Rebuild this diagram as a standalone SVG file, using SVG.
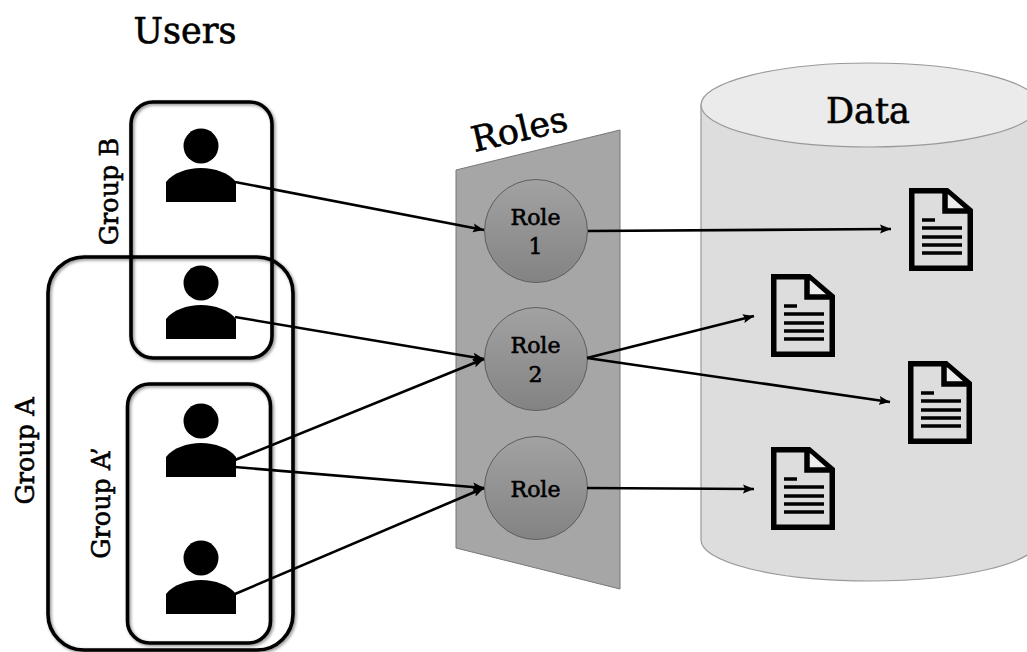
<svg xmlns="http://www.w3.org/2000/svg" width="1027" height="652" viewBox="0 0 1027 652">
<defs>
<linearGradient id="rg" x1="0" y1="0" x2="0" y2="1"><stop offset="0" stop-color="#a2a2a2"/><stop offset="1" stop-color="#838383"/></linearGradient>
<filter id="sh" x="-10%" y="-10%" width="120%" height="120%"><feDropShadow dx="1.5" dy="1.5" stdDeviation="1.5" flood-color="#000" flood-opacity="0.45"/></filter>
<marker id="ah" markerUnits="userSpaceOnUse" markerWidth="12" markerHeight="10" refX="11" refY="5" orient="auto"><path d="M0 0.5L11 5L0 9.5L2 5Z" fill="#000"/></marker>
<g id="user"><circle cx="0" cy="0" r="17.5" fill="#000"/><path d="M-35 56V36C-28 27-14 22 0 22C14 22 28 27 35 36V56Z" fill="#000"/></g>
<g id="doc"><path d="M2.75 2.75H38L61.25 22.5V80.25H2.75Z" fill="none" stroke="#000" stroke-width="5.5"/><path d="M36 5V23H58L40 7Z" fill="#ececec"/><path d="M36 3V23H61" fill="none" stroke="#000" stroke-width="5.5"/><path d="M13 32H26M13 40H53M13 49H53M13 57H53M13 65H53" stroke="#000" stroke-width="3.5" fill="none"/></g>
</defs>
<style>
.t{font-family:"DejaVu Serif","Liberation Serif",serif;fill:#000;stroke:#000;stroke-width:.6}
.box{fill:none;stroke:#000;stroke-width:3.6;filter:url(#sh)}
.c{fill:none;stroke:#000;stroke-width:2.6;marker-end:url(#ah)}
.role{fill:url(#rg);stroke:#5e5e5e;stroke-width:1}
</style>
<rect width="1027" height="652" fill="#fff"/>
<g id="data">
<path d="M701 105V540A169 41 0 0 0 1039 540V105Z" fill="#dddddd" stroke="#999" stroke-width="1.2"/>
<ellipse cx="870" cy="105" rx="169" ry="42" fill="#ebebeb" stroke="#999" stroke-width="1.2"/>
<text class="t" x="868" y="123" font-size="35" text-anchor="middle">Data</text>
</g>
<g id="roles">
<path d="M456 170L620 130V589L456 548Z" fill="#a6a6a6" stroke="#777" stroke-width="1"/>
<text class="t" x="522" y="141" font-size="35" text-anchor="middle" transform="rotate(-13 522 141)">Roles</text>
</g>
<g id="role1"><circle class="role" cx="536" cy="231" r="51.5"/><text class="t" font-size="22" text-anchor="middle" x="535.5" y="225">Role</text><text class="t" font-size="22" text-anchor="middle" x="535.5" y="254">1</text></g>
<g id="role2"><circle class="role" cx="536" cy="359" r="51.5"/><text class="t" font-size="22" text-anchor="middle" x="535.5" y="353">Role</text><text class="t" font-size="22" text-anchor="middle" x="535.5" y="382">2</text></g>
<g id="role3"><circle class="role" cx="536" cy="488" r="51.5"/><text class="t" font-size="22" text-anchor="middle" x="535.5" y="497">Role</text></g>
<g id="users-label"><text class="t" x="185" y="43" font-size="35" text-anchor="middle">Users</text></g>
<g id="group-b"><rect class="box" x="131" y="102" width="141" height="256" rx="22"/><text class="t" font-size="25.5" text-anchor="middle" transform="translate(118 191.500) rotate(-90)">Group B</text></g>
<g id="group-a"><rect class="box" x="48" y="257" width="245" height="393" rx="36"/><text class="t" font-size="25.5" text-anchor="middle" transform="translate(34 451) rotate(-90)">Group A</text></g>
<g id="group-a-prime"><rect class="box" x="127.500" y="384" width="143" height="259" rx="22"/><text class="t" font-size="25.5" text-anchor="middle" transform="translate(110 503) rotate(-90)">Group A’</text></g>
<use id="user1" href="#user" x="201" y="146"/>
<use id="user2" href="#user" x="201" y="283"/>
<use id="user3" href="#user" x="201" y="421"/>
<use id="user4" href="#user" x="201" y="558"/>
<use id="doc1" href="#doc" x="909" y="188"/>
<use id="doc2" href="#doc" x="771" y="274"/>
<use id="doc3" href="#doc" x="908" y="361"/>
<use id="doc4" href="#doc" x="771" y="447"/>
<g id="connectors">
<path class="c" d="M235 182L484 230"/>
<path class="c" d="M235 317L484 359"/>
<path class="c" d="M235 460L484 359"/>
<path class="c" d="M235 467L484 488"/>
<path class="c" d="M235 594L484 488"/>
<path class="c" d="M588 231L891 229"/>
<path class="c" d="M587 358L754 316"/>
<path class="c" d="M587 358L890 402"/>
<path class="c" d="M587 488L754 489"/>
</g>
</svg>
